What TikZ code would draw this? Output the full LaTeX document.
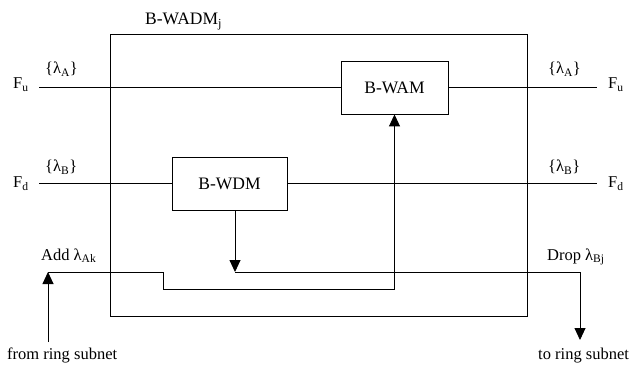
\documentclass[tikz,border=0pt]{standalone}
\usepackage{fontspec}
\setmainfont{Liberation Serif}
\usetikzlibrary{arrows.meta,positioning}

\begin{document}
\begin{tikzpicture}[x=1pt, y=-1pt,
      wire/.style={line width=0.9pt},
      sig/.style={wire, -{Triangle[length=12pt,width=11pt]}},
      blk/.style={draw, line width=0.9pt, minimum width=107pt, minimum height=53pt, inner sep=0pt, font=\fontsize{17.5}{20}\selectfont},
      lbl/.style={inner sep=0pt, anchor=base west, font=\fontsize{16.5}{19}\selectfont}
    ]
    \useasboundingbox (0,0) rectangle (629,366);
    \node[draw, line width=0.9pt, minimum width=417pt, minimum height=282pt, inner sep=0pt] (adm) at (318.5,175) {};
    \node[lbl, font=\fontsize{17.5}{20}\selectfont] (admname) at (145,25) {B-WADM\textsubscript{j}};
    \node[blk] (wam) at (394.5,87.5) {B-WAM};
    \node[blk, minimum width=115pt] (wdm) at (229.5,183.5) {B-WDM};

    \node[lbl] (fuleft) at (13,89) {F\textsubscript{u}};
    \node[lbl] (furight) at (608,89) {F\textsubscript{u}};
    \node[lbl] (fdleft) at (13,188) {F\textsubscript{d}};
    \node[lbl] (fdright) at (608,188) {F\textsubscript{d}};
    \node[lbl] (laleft) at (45,74) {\{λ\textsubscript{A}\}};
    \node[lbl] (laright) at (548,74) {\{λ\textsubscript{A}\}};
    \node[lbl] (lbleft) at (45,172) {\{λ\textsubscript{B}\}};
    \node[lbl] (lbright) at (548,172) {\{λ\textsubscript{B}\}};
    \node[lbl] (addname) at (41,260) {Add λ\textsubscript{Ak}};
    \node[lbl] (dropname) at (547,260) {Drop λ\textsubscript{Bj}};
    \node[lbl] (fromring) at (7,359) {from ring subnet};
    \node[lbl] (toring) at (538,359) {to ring subnet};

    \coordinate (fuin) at (39,87.5);
    \coordinate (fuout) at (597,87.5);
    \coordinate (fdin) at (39,183.5);
    \coordinate (fdout) at (597,183.5);
    \coordinate (dropjn) at (235,272);
    \coordinate (dropend) at (580,340);
    \coordinate (addin) at (48,342);
    \coordinate (addjn) at (48,272);
    \coordinate (addstep) at (163,289);

    \draw[wire] (fuin) -- (wam.west); \draw[wire] (wam.east) -- (fuout);
    \draw[wire] (fdin) -- (wdm.west); \draw[wire] (wdm.east) -- (fdout);
    \draw[sig] (wdm.south -| dropjn) -- (dropjn);
    \draw[sig] (dropjn) -| (dropend);
    \draw[sig] (addin) -- (addjn);
    \draw[sig] (addjn) -- (addjn -| addstep) |- (addstep -| wam.south) -- (wam.south);
  \end{tikzpicture}
\end{document}
